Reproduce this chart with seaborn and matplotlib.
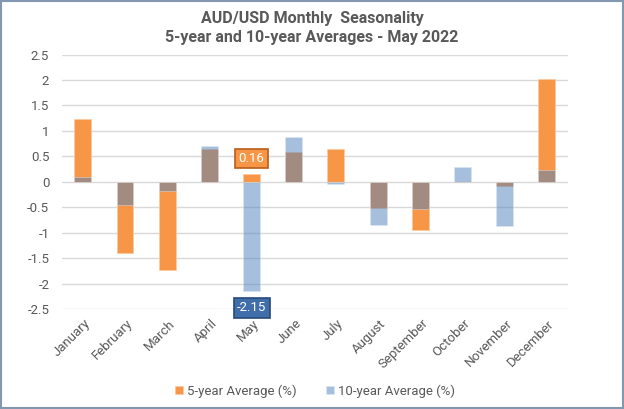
import numpy as np
import pandas as pd
import matplotlib
matplotlib.use('Agg')
from matplotlib import pyplot as plt
from matplotlib.transforms import ScaledTranslation
import seaborn as sns

# data
months = ['January', 'February', 'March', 'April', 'May', 'June',
          'July', 'August', 'September', 'October', 'November', 'December']
five_year = [1.23, -1.39, -1.73, 0.65, 0.16, 0.59, 0.65, -0.52, -0.95, 0.0, -0.09, 2.03]
ten_year = [0.09, -0.46, -0.18, 0.71, -2.15, 0.88, -0.05, -0.85, -0.53, 0.29, -0.86, 0.23]
yticks = [2.5, 2, 1.5, 1, 0.5, 0, -0.5, -1, -1.5, -2, -2.5]
title = 'AUD/USD Monthly  Seasonality\n5-year and 10-year Averages - May 2022'

df = pd.DataFrame({'Month': months, 'Five': five_year, 'Ten': ten_year})

sns.set_style('white')
plt.rcParams['font.family'] = ['Roboto', 'DejaVu Sans']

orange = '#F79646'
blue = '#4F81BD'
grey = '#595959'

fig = plt.figure(figsize=(6.24, 4.09), dpi=100)
ax = fig.add_axes([0.099, 0.2445, 0.811, 0.622])

sns.barplot(data=df, x='Month', y='Five', color=orange, saturation=1,
            width=0.4, ax=ax, edgecolor='#fbc9a0', linewidth=0.6,
            label='5-year Average (%)')
sns.barplot(data=df, x='Month', y='Ten', color=blue, saturation=1,
            width=0.4, ax=ax, alpha=0.5, edgecolor='#dfe8f3', linewidth=0.6,
            label='10-year Average (%)')

ax.set_ylim(-2.5, 2.5)
ax.set_yticks(yticks)
ax.set_yticklabels([f'{t:g}' for t in yticks])
ax.set_xlim(-0.5, 11.5)
ax.set_xlabel('')
ax.set_ylabel('')
ax.grid(axis='y', color='#d9d9d9', linewidth=1)
ax.set_axisbelow(True)
for s in ax.spines.values():
    s.set_visible(False)
ax.tick_params(axis='both', length=0, labelsize=9.5, labelcolor=grey)
ax.tick_params(axis='y', pad=9)
ax.tick_params(axis='x', pad=9)
plt.setp(ax.get_xticklabels(), rotation=45, ha='right', va='center',
         rotation_mode='anchor')
# nudge month labels a little to the right, like the original
shift = ScaledTranslation(4 / 72, 0, fig.dpi_scale_trans)
for lbl in ax.get_xticklabels():
    lbl.set_transform(lbl.get_transform() + shift)

# labels on May
ax.annotate('0.16', xy=(4, five_year[4]), xytext=(0, 11), textcoords='offset points',
            ha='center', va='center', color='white', fontsize=9.5,
            bbox=dict(boxstyle='square,pad=0.25', fc='#F79646', ec='#b75e1d', lw=1.2))
ax.annotate('-2.15', xy=(4, ten_year[4]), xytext=(0, -12), textcoords='offset points',
            ha='center', va='center', color='white', fontsize=9.5,
            bbox=dict(boxstyle='square,pad=0.25', fc='#3f6eab', ec='#274a78', lw=1.2))

fig.text(0.5, 0.932, title, ha='center', va='center', fontsize=11.5,
         color=grey, fontweight='bold', linespacing=1.3)

ax.legend(loc='center', bbox_to_anchor=(0.5, -0.323), ncol=2, frameon=False,
          fontsize=9.5, labelcolor=grey, handlelength=0.6, handleheight=0.6,
          handletextpad=0.3, columnspacing=2.2)

# outer border
fig.patches.append(plt.Rectangle((0.002, 0.003), 0.996, 0.994, transform=fig.transFigure,
                                 fill=False, ec='#8497b0', lw=1.5))

fig.savefig('out.png', dpi=100)
